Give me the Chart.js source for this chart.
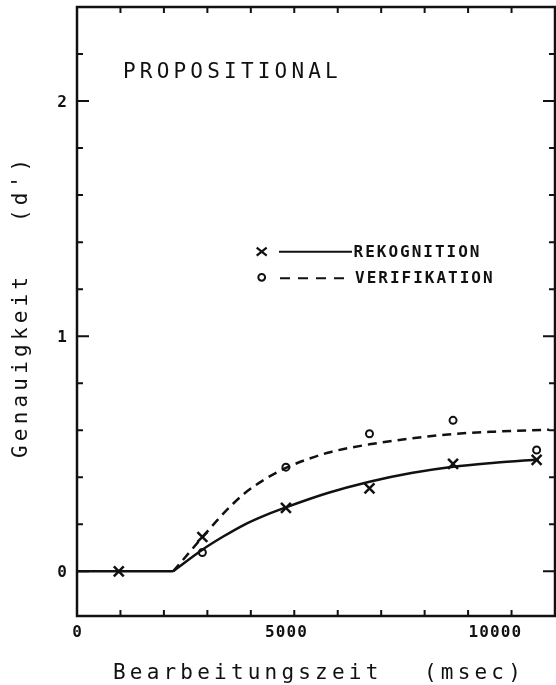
<!DOCTYPE html>
<html>
<head>
<meta charset="utf-8">
<script src="https://cdn.jsdelivr.net/npm/chart.js@4.4.0/dist/chart.umd.min.js"></script>
<style>
  html, body { margin: 0; padding: 0; background: #fff; }
</style>
</head>
<body>
<canvas id="chart" width="556" height="685"></canvas>
<script>
"use strict";

// x = Bearbeitungszeit (msec), y = d'
const thresholdX = [0, 2300];
const thresholdY = [0, 0];

const rekogFitX = [2300, 3000, 3500, 4000, 4500, 5000, 6000, 7000, 8000, 9000, 10000, 11050];
const rekogFitY = [0, 0.092, 0.148, 0.198, 0.238, 0.272, 0.333, 0.381, 0.418, 0.445, 0.462, 0.476];

const verifFitX = [2300, 2600, 3000, 3500, 4000, 4500, 5000, 6000, 7000, 8000, 9000, 10000, 11300];
const verifFitY = [0, 0.062, 0.145, 0.245, 0.33, 0.392, 0.44, 0.504, 0.54, 0.565, 0.584, 0.594, 0.602];

const rekogX = [1000, 3000, 5000, 7000, 9000, 11000];
const rekogY = [0.0, 0.146, 0.27, 0.353, 0.457, 0.474];

const verifX = [3000, 5000, 7000, 9000, 11000];
const verifY = [0.08, 0.443, 0.585, 0.642, 0.516];

const xTickLabels = [0, 5000, 10000];
const yTickLabels = [0, 1, 2];

const seriesNames = ["REKOGNITION", "VERIFIKATION"];
const chartTitle = "PROPOSITIONAL";
const xTitle = ["Bearbeitungszeit", "(msec)"];
const yTitle = ["Genauigkeit", "(d')"];

const INK = "#111";
const MONO = "'DejaVu Sans Mono', monospace";

function toPoints(xs, ys) {
  return xs.map((x, i) => ({ x, y: ys[i] }));
}

function isLabelled(list, v) {
  return list.some((t) => Math.abs(t - v) < 1e-6);
}

// box, inward tick marks on all four sides, tick labels
const framePlugin = {
  id: "frame",
  afterDraw(chart) {
    const { ctx, chartArea: a, scales } = chart;
    const sx = scales.x, sy = scales.y;
    ctx.save();
    ctx.strokeStyle = INK;
    ctx.lineWidth = 2.5;
    ctx.strokeRect(a.left, a.top, a.right - a.left, a.bottom - a.top);

    ctx.lineWidth = 2;
    ctx.beginPath();
    sx.ticks.forEach((t) => {
      if (t.value <= sx.min || t.value >= sx.max) return;
      const px = sx.getPixelForValue(t.value);
      const len = isLabelled(xTickLabels, t.value) ? 12 : 6;
      ctx.moveTo(px, a.bottom); ctx.lineTo(px, a.bottom - len);
      ctx.moveTo(px, a.top); ctx.lineTo(px, a.top + len);
    });
    sy.ticks.forEach((t) => {
      if (t.value <= sy.min || t.value >= sy.max) return;
      const py = sy.getPixelForValue(t.value);
      const len = isLabelled(yTickLabels, t.value) ? 12 : 6;
      ctx.moveTo(a.left, py); ctx.lineTo(a.left + len, py);
      ctx.moveTo(a.right, py); ctx.lineTo(a.right - len, py);
    });
    ctx.stroke();

    ctx.fillStyle = INK;
    ctx.font = "bold 16px " + MONO;
    ctx.letterSpacing = "1.1px";
    ctx.textBaseline = "alphabetic";
    ctx.textAlign = "center";
    xTickLabels.forEach((v) => {
      ctx.fillText(String(v), sx.getPixelForValue(v) + 0.6, 637);
    });
    ctx.letterSpacing = "0px";
    ctx.textAlign = "right";
    yTickLabels.forEach((v) => {
      ctx.fillText(String(v), 67, sy.getPixelForValue(v) + 5.8);
    });
    ctx.restore();
  }
};

const textPlugin = {
  id: "texts",
  afterDraw(chart) {
    const { ctx } = chart;
    ctx.save();
    ctx.fillStyle = INK;
    ctx.strokeStyle = INK;
    ctx.textBaseline = "alphabetic";
    ctx.textAlign = "left";

    ctx.font = "21px " + MONO;
    ctx.letterSpacing = "4.2px";
    ctx.fillText(chartTitle, 123, 78);

    ctx.fillText(xTitle[0], 113, 679);
    ctx.fillText(xTitle[1], 424, 679);

    ctx.save();
    ctx.translate(26.5, 458);
    ctx.rotate(-Math.PI / 2);
    ctx.fillText(yTitle[0], 0, 0);
    ctx.fillText(yTitle[1], 236, 0);
    ctx.restore();

    // legend
    ctx.lineWidth = 2.2;
    ctx.beginPath();
    ctx.moveTo(256.7, 247.7); ctx.lineTo(266.7, 255.7);
    ctx.moveTo(266.7, 247.7); ctx.lineTo(256.7, 255.7);
    ctx.stroke();
    ctx.lineWidth = 2;
    ctx.beginPath();
    ctx.moveTo(279, 251.7); ctx.lineTo(352, 251.7);
    ctx.stroke();

    ctx.beginPath();
    ctx.arc(261.7, 277.3, 3.4, 0, Math.PI * 2);
    ctx.stroke();
    ctx.setLineDash([10, 8]);
    ctx.beginPath();
    ctx.moveTo(280, 278.3); ctx.lineTo(350, 278.3);
    ctx.stroke();
    ctx.setLineDash([]);

    ctx.font = "bold 16px " + MONO;
    ctx.letterSpacing = "2px";
    ctx.fillText(seriesNames[0], 353.5, 256.7);
    ctx.fillText(seriesNames[1], 355, 283.3);
    ctx.restore();
  }
};

const lineBase = {
  borderColor: INK,
  borderWidth: 2.5,
  pointRadius: 0,
  fill: false,
  cubicInterpolationMode: "monotone"
};

new Chart(document.getElementById("chart"), {
  type: "line",
  data: {
    datasets: [
      { ...lineBase, label: "threshold", data: toPoints(thresholdX, thresholdY) },
      { ...lineBase, label: seriesNames[0] + " fit", data: toPoints(rekogFitX, rekogFitY) },
      { ...lineBase, label: seriesNames[1] + " fit", data: toPoints(verifFitX, verifFitY), borderDash: [9, 6] },
      {
        label: seriesNames[0],
        data: toPoints(rekogX, rekogY),
        showLine: false,
        pointStyle: "crossRot",
        pointRadius: 7,
        pointBorderWidth: 2.5,
        pointBorderColor: INK,
        pointBackgroundColor: INK
      },
      {
        label: seriesNames[1],
        data: toPoints(verifX, verifY),
        showLine: false,
        pointStyle: "circle",
        pointRadius: 3.5,
        pointBorderWidth: 2,
        pointBorderColor: INK,
        pointBackgroundColor: "rgba(0,0,0,0)"
      }
    ]
  },
  options: {
    responsive: false,
    devicePixelRatio: 1,
    animation: false,
    layout: { autoPadding: false, padding: { left: 0, right: 1, top: 7, bottom: 0 } },
    plugins: {
      legend: { display: false },
      tooltip: { enabled: false }
    },
    scales: {
      x: {
        type: "linear",
        min: 0,
        max: 11440,
        afterFit: (scale) => { scale.height = 69; },
        grid: { display: false, drawTicks: false },
        border: { display: false },
        ticks: { display: false, stepSize: 1000, includeBounds: false }
      },
      y: {
        type: "linear",
        min: -0.19,
        max: 2.4,
        afterFit: (scale) => { scale.width = 77; },
        grid: { display: false, drawTicks: false },
        border: { display: false },
        ticks: { display: false, stepSize: 0.2, includeBounds: false }
      }
    }
  },
  plugins: [framePlugin, textPlugin]
});
</script>
</body>
</html>
